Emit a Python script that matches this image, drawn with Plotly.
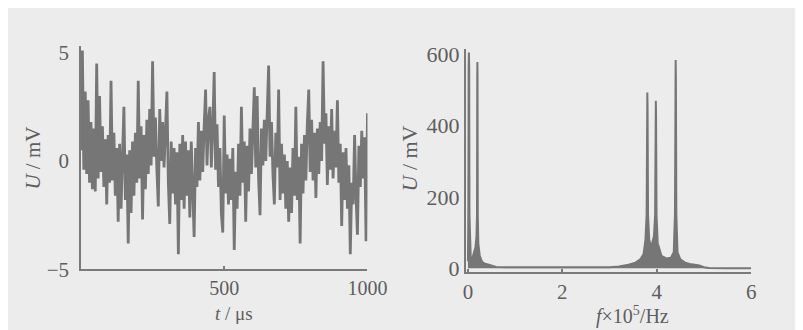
import plotly.graph_objects as go

# ---------------- data: time signal (t in µs, U in mV) ----------------
t_step = 5
u_time = [
    0.5, 5.1, -0.4, 3.2, -0.6, 2.8, -1.0, 1.8, -1.3, 1.5,
    -1.4, 4.5, -0.8, 3.0, -0.5, 1.6, -1.2, 1.0, -2.0, 1.2,
    -1.0, 3.7, -0.9, 1.3, -1.6, 0.6, -2.8, 0.8, -2.2, 0.4,
    2.5, -1.8, 0.3, -3.8, 0.5, -2.4, 0.9, -1.6, 1.3, -1.0,
    3.7, -0.8, 1.6, -2.7, 1.2, -1.3, 1.9, -0.6, 2.4, -0.2,
    4.6, 0.2, 2.0, -0.4, -2.1, 2.4, 0.0, 1.8, -0.3, 1.4,
    3.2, -1.0, -2.9, 0.9, -1.5, 0.6, -2.0, 0.4, -4.3, 0.8,
    -1.8, 1.2, -2.2, 0.9, -1.6, 0.5, -2.6, 0.9, -1.4, -3.5,
    0.6, -1.2, 1.8, -0.9, 1.4, -0.5, 1.6, 3.3, -0.2, 1.9,
    2.5, -0.3, 1.5, 4.1, -0.4, 1.7, -1.2, 0.6, -2.4, -3.3,
    2.1, -1.5, 0.3, -2.0, 0.1, -1.8, 0.6, -4.1, -0.5, -2.2,
    0.8, -1.6, 2.5, -1.0, 0.9, -2.8, 0.7, -1.4, 1.5, -0.6,
    1.4, 3.4, -0.3, 3.0, -0.8, -2.5, 1.5, -0.2, 1.9, 0.0,
    2.2, 4.4, 0.2, 1.8, -0.6, -2.0, 1.3, -0.3, 3.3, -1.8,
    0.8, -1.5, 0.3, -2.2, 0.0, -2.8, -0.3, -2.4, 0.6, -1.6,
    2.5, -1.8, 0.2, -3.8, 0.8, -1.5, 1.2, -0.9, 1.7, 3.3,
    -0.5, 1.9, -0.9, 1.3, -1.7, 1.5, -0.6, 1.8, 0.0, 4.6,
    0.8, 2.2, -1.1, 1.6, -0.4, 2.4, -0.8, 1.4, -0.3, 2.8,
    -1.0, 0.8, -3.0, 0.4, -1.8, 0.6, -2.2, -0.2, -4.3, -1.0,
    -2.0, 1.2, -1.6, -3.4, 0.7, -1.2, 1.4, -0.8, 1.1, -3.7,
    2.2,
]
t_time = [i * t_step for i in range(len(u_time))]

# ---------------- data: spectrum (f in 1e5 Hz, U in mV) ----------------
f_spec = [
    0.00, 0.008, 0.014, 0.02, 0.026, 0.032, 0.045, 0.06, 0.08, 0.10,
    0.13, 0.16, 0.18, 0.192, 0.197, 0.20, 0.203, 0.208, 0.22, 0.25,
    0.30, 0.35, 0.40, 0.45, 0.50, 0.60, 0.80, 1.00, 1.50, 2.00,
    2.50, 3.00, 3.20, 3.40, 3.55, 3.65, 3.72, 3.76, 3.785, 3.795,
    3.80, 3.805, 3.815, 3.84, 3.88, 3.94, 3.965, 3.975, 3.98, 3.985,
    3.995, 4.02, 4.10, 4.20, 4.30, 4.36, 4.385, 4.395, 4.40, 4.405,
    4.415, 4.44, 4.50, 4.60, 4.70, 4.80, 4.90, 5.00, 5.10, 5.50,
    6.00,
]
u_spec = [
    20, 150, 560, 605, 560, 150, 40, 25, 22, 30,
    45, 60, 90, 150, 540, 578, 540, 150, 70, 35,
    18, 14, 12, 9, 6, 4, 3, 3, 2, 2,
    2, 3, 5, 10, 16, 25, 40, 80, 150, 450,
    493, 450, 150, 80, 60, 90, 150, 430, 470, 430,
    150, 70, 35, 28, 30, 45, 150, 540, 584, 540,
    150, 45, 25, 16, 12, 10, 8, 3, 1, 0,
    0,
]

# ---------------- tick labels ----------------
left_xticks = [500, 1000]
left_yticks = [-5, 0, 5]
right_xticks = [0, 2, 4, 6]
right_yticks = [0, 200, 400, 600]

W, H = 803, 330
BG = "#ececec"
INK = "#767676"
TXT = "#5e5e5e"
AXC = "#7a7a7a"
FONT = "Liberation Serif"


def px(x):
    return x / W


def py(y):
    return 1 - y / H


fig = go.Figure()

fig.add_trace(go.Scatter(
    x=t_time, y=u_time, mode="lines",
    line=dict(color=INK, width=2.8),
    xaxis="x", yaxis="y", showlegend=False, hoverinfo="skip",
))

fig.add_trace(go.Scatter(
    x=f_spec, y=u_spec, mode="lines", fill="tozeroy",
    fillcolor=INK, line=dict(color=INK, width=2.0),
    xaxis="x2", yaxis="y2", showlegend=False, hoverinfo="skip",
))

axis_common = dict(
    showgrid=False, zeroline=False, showline=True,
    linecolor=AXC, linewidth=1.5,
)

fig.update_layout(
    width=W, height=H,
    margin=dict(l=0, r=0, t=0, b=0),
    paper_bgcolor=BG, plot_bgcolor=BG,
    xaxis=dict(
        domain=[px(72), px(367)], range=[0, 1000], anchor="y",
        tickvals=left_xticks, ticktext=[str(v) for v in left_xticks],
        ticks="inside", ticklen=4, tickcolor=AXC, tickwidth=1.5,
        ticklabelstandoff=0,
        tickfont=dict(family=FONT, color=TXT, size=20),
        **axis_common,
    ),
    yaxis=dict(
        domain=[py(270), py(33)], range=[-5, 5.3], anchor="x",
        tickvals=left_yticks, ticktext=["\u22125", "0", "5"],
        ticks="", ticklabelstandoff=6,
        tickfont=dict(family=FONT, color=TXT, size=21),
        **axis_common,
    ),
    xaxis2=dict(
        domain=[px(468), px(762)], range=[-0.05, 6.0], anchor="y2",
        tickvals=right_xticks, ticktext=[str(v) for v in right_xticks],
        ticks="inside", ticklen=4, tickcolor=AXC, tickwidth=1.5,
        ticklabelstandoff=0,
        tickfont=dict(family=FONT, color=TXT, size=21),
        **axis_common,
    ),
    yaxis2=dict(
        domain=[py(273), py(36)], range=[-11, 615], anchor="x2",
        tickvals=right_yticks, ticktext=[str(v) for v in right_yticks],
        ticks="", ticklabelstandoff=0,
        tickfont=dict(family=FONT, color=TXT, size=22),
        **axis_common,
    ),
)

titles = [
    dict(text="<i>U</i> / mV", x=px(23), y=py(152), textangle=-90, size=21),
    dict(text="<i>t</i> / \u03bcs", x=px(230), y=py(317), textangle=0, size=19),
    dict(text="<i>U</i> / mV", x=px(410), y=py(152), textangle=-90, size=22),
    dict(text="<i>f</i>\u00d710<sup>5</sup>/Hz", x=px(640), y=py(319), textangle=0, size=20),
]
for tt in titles:
    fig.add_annotation(
        text=tt["text"], x=tt["x"], y=tt["y"], xref="paper", yref="paper",
        xanchor="center", yanchor="middle", showarrow=False,
        textangle=tt["textangle"],
        font=dict(family=FONT, color=TXT, size=tt["size"]),
    )

fig.write_html("out.html")
